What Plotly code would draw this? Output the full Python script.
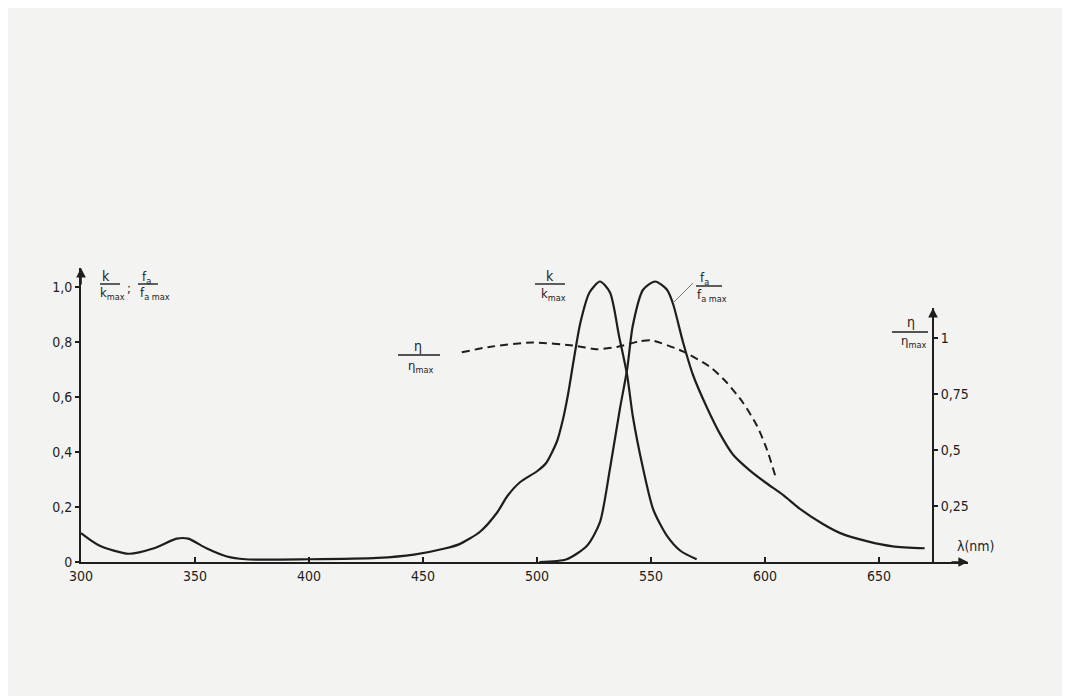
import plotly.graph_objects as go

# ---------------- data ----------------
wl_k = [300, 308, 321, 332, 342, 347, 355, 364, 372, 400, 430, 446, 460, 466,
        475, 482.5, 487, 492.5, 500, 504, 508.8, 511.4, 513.6, 516, 519, 523,
        527.6, 532, 536, 539.5, 542, 546.5, 551, 557, 563, 570]
k_rel = [0.105, 0.06, 0.03, 0.05, 0.085, 0.085, 0.05, 0.02, 0.01, 0.01, 0.015,
         0.027, 0.05, 0.065, 0.11, 0.18, 0.24, 0.29, 0.33, 0.36, 0.44, 0.52,
         0.61, 0.73, 0.87, 0.98, 1.02, 0.98, 0.82, 0.68, 0.53, 0.34, 0.19,
         0.095, 0.04, 0.01]

wl_f = [501, 513, 522, 527.6, 532, 536.4, 539.5, 542, 546.5, 551.8, 557, 559.6,
        564, 568.4, 574.6, 580.3, 586, 593, 600, 608, 615, 625, 633, 645, 656, 670]
f_rel = [0.0, 0.01, 0.06, 0.145, 0.34, 0.56, 0.70, 0.86, 0.99, 1.02, 0.99, 0.94,
         0.80, 0.68, 0.56, 0.465, 0.39, 0.335, 0.29, 0.243, 0.195, 0.14, 0.105,
         0.075, 0.057, 0.05]

wl_eta = [467, 479, 498, 517.5, 526, 535, 545, 550, 564, 576, 583.3, 590.4,
          596.5, 600.9, 604.4]
eta_rel = [0.936, 0.96, 0.98, 0.964, 0.95, 0.96, 0.985, 0.99, 0.94, 0.87, 0.80,
           0.71, 0.607, 0.50, 0.387]

x_ticks = [300, 350, 400, 450, 500, 550, 600, 650]
x_ticktext = ["300", "350", "400", "450", "500", "550", "600", "650"]
left_ticks = [0, 0.2, 0.4, 0.6, 0.8, 1.0]
left_ticktext = ["0", "0,2", "0,4", "0,6", "0,8", "1,0"]
right_ticks = [0.25, 0.5, 0.75, 1.0]
right_ticktext = ["0,25", "0,5", "0,75", "1"]

# ---------------- layout geometry ----------------
W, H = 1070, 696
OFF = 8  # page body margin of the html page
L, R, T, B = 81 - OFF, 968 - OFF, 268 - OFF, 562 - OFF
PW, PH = R - L, B - T

def px(x):
    return (x - OFF - L) / PW

def py(y):
    return (B - (y - OFF)) / PH

INK = "#1e1e1e"
BG = "#f3f3f1"
FONT = "DejaVu Sans Condensed, Liberation Sans Narrow, DejaVu Sans, sans-serif"

fig = go.Figure()
fig.add_trace(go.Scatter(x=wl_k, y=k_rel, mode="lines",
                         line=dict(color=INK, width=2.2, shape="spline", smoothing=0.7),
                         hoverinfo="skip", showlegend=False))
fig.add_trace(go.Scatter(x=wl_f, y=f_rel, mode="lines",
                         line=dict(color=INK, width=2.2, shape="spline", smoothing=0.7),
                         hoverinfo="skip", showlegend=False))
fig.add_trace(go.Scatter(x=wl_eta, y=eta_rel, mode="lines", yaxis="y2",
                         line=dict(color=INK, width=2, dash="8px,5px",
                                   shape="spline", smoothing=0.7),
                         hoverinfo="skip", showlegend=False))

right_pos = px(933)
y2_top = py(308)

fig.update_layout(
    width=W, height=H,
    margin=dict(l=L, r=W - R, t=T, b=H - B),
    paper_bgcolor=BG, plot_bgcolor="rgba(0,0,0,0)",
    font=dict(family=FONT, size=14, color=INK),
    xaxis=dict(range=[300, 689], showgrid=False, zeroline=False,
               showline=True, linecolor=INK, linewidth=2,
               tickvals=x_ticks, ticktext=x_ticktext,
               ticks="inside", ticklen=5, tickcolor=INK, tickwidth=1.5,
               tickfont=dict(size=14, family=FONT, color=INK)),
    yaxis=dict(range=[0, PH / 275], showgrid=False, zeroline=False,
               showline=True, linecolor=INK, linewidth=2,
               tickvals=left_ticks, ticktext=left_ticktext,
               ticks="outside", ticklen=4, tickcolor=INK, tickwidth=1.5,
               tickfont=dict(size=14, family=FONT, color=INK)),
    yaxis2=dict(domain=[0, y2_top], range=[0, (562 - 308) / 224],
                anchor="free", position=right_pos, side="right",
                showgrid=False, zeroline=False,
                showline=True, linecolor=INK, linewidth=2,
                tickvals=right_ticks, ticktext=right_ticktext,
                ticks="outside", ticklen=4, tickcolor=INK, tickwidth=1.5,
                tickfont=dict(size=14, family=FONT, color=INK)),
)

ann = []
# axis arrows
ann.append(dict(x=1.0, y=0, xref="paper", yref="paper", ax=-18, ay=0,
                showarrow=True, arrowhead=2, arrowsize=1.2, arrowwidth=1.6,
                arrowcolor=INK, text=""))
ann.append(dict(x=0, y=1.0, xref="paper", yref="paper", ax=0, ay=18,
                showarrow=True, arrowhead=2, arrowsize=1.2, arrowwidth=1.6,
                arrowcolor=INK, text=""))
ann.append(dict(x=right_pos, y=y2_top, xref="paper", yref="paper", ax=0, ay=18,
                showarrow=True, arrowhead=2, arrowsize=1.2, arrowwidth=1.6,
                arrowcolor=INK, text=""))

def label(x, y, text, size=13, anchor="center"):
    ann.append(dict(x=px(x), y=py(y), xref="paper", yref="paper", text=text,
                    showarrow=False, xanchor=anchor, yanchor="middle",
                    font=dict(size=size, family=FONT, color=INK)))

shapes = []

def bar(x0, x1, y):
    shapes.append(dict(type="line", xref="paper", yref="paper",
                       x0=px(x0), x1=px(x1), y0=py(y), y1=py(y),
                       line=dict(color=INK, width=1.4)))

# left axis label  k/kmax ; fa/fa max
label(106, 276, "k", 14)
bar(100, 120, 284)
label(112, 293, "k<sub>max</sub>", 13)
label(129, 288, ";", 13)
label(146, 277, "f<sub>a</sub>", 13)
bar(138, 158, 284)
label(155, 293, "f<sub>a max</sub>", 13)

# k/kmax label near absorption peak
label(550, 276, "k", 14)
bar(535, 565, 284)
label(553, 294, "k<sub>max</sub>", 13)

# fa/fa max label near fluorescence peak
label(704, 278, "f<sub>a</sub>", 13)
bar(696, 722, 286)
label(712, 295, "f<sub>a max</sub>", 13)
shapes.append(dict(type="line", xref="paper", yref="paper",
                   x0=px(693), y0=py(283), x1=px(673), y1=py(303),
                   line=dict(color="#777", width=1)))

# eta/eta max label (left of dashed curve)
label(418, 346, "η", 14)
bar(398, 440, 355)
label(420, 366, "η<sub>max</sub>", 13)

# eta/eta max label at right axis
label(911, 322, "η", 14)
bar(892, 928, 332)
label(913, 341, "η<sub>max</sub>", 13)

# wavelength axis label
label(976, 546, "λ(nm)", 14)

fig.update_layout(annotations=ann, shapes=shapes)
fig.write_html("out.html")
